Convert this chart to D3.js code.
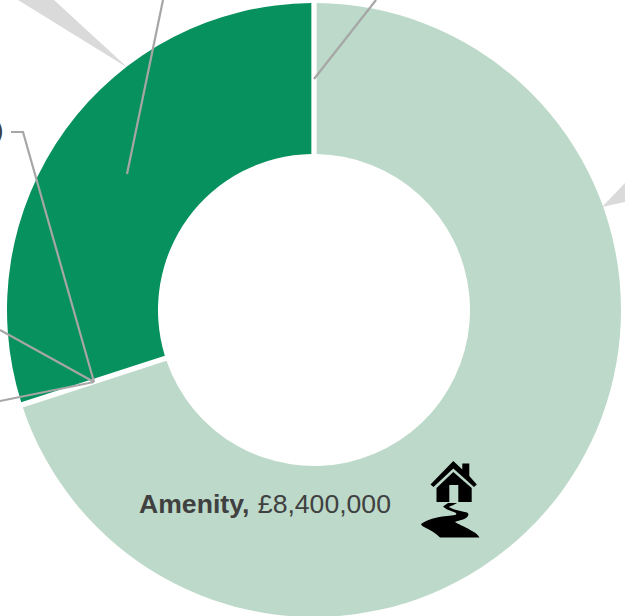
<!DOCTYPE html>
<html>
<head>
<meta charset="utf-8">
<script src="https://cdn.jsdelivr.net/npm/d3@7"></script>
<style>
  html, body { margin: 0; padding: 0; background: #fff; overflow: hidden; }
  svg { display: block; }
  text { font-family: "Liberation Sans", Arial, sans-serif; opacity: 0.999; }
</style>
</head>
<body>
<svg id="chart" width="625" height="616"></svg>
<script>
// Budget shares shown on the ring
const categories = ["Amenity", "Other"];
const values = [8400000, 3600000];
const sliceColors = ["#bcd9c9", "#07915f"];

const labelName = "Amenity,";
const labelAmount = "£8,400,000";

const cx = 314, cy = 310, outerR = 307, innerR = 156, gap = 5.3;

const svg = d3.select("#chart");

const pie = d3.pie().sort(null).value(d => d)(values);
// A constant-width gap separates the slices without eating into the ring's edges
const arc = d3.arc()
  .innerRadius(innerR)
  .outerRadius(outerR)
  .padRadius(outerR)
  .padAngle(gap / outerR);

// Pointer wedges running off towards the neighbouring panels
const wedges = [
  [[128, 68], [18, 0], [54, 0]],
  [[602, 207], [625, 183], [625, 202]]
];
svg.append("g").selectAll("polygon").data(wedges).join("polygon")
  .attr("points", d => d.join(" "))
  .attr("fill", "#dadada");

// Ring
svg.append("g").attr("transform", `translate(${cx},${cy})`)
  .selectAll("path").data(pie).join("path")
  .attr("d", arc)
  .attr("fill", (d, i) => sliceColors[i]);

// Leader lines
const leaders = [
  [[376, 0], [314, 79]],
  [[163, 0], [127, 174]],
  [[11, 132], [23, 132], [94, 382]],
  [[0, 330], [94, 382]],
  [[0, 401], [94, 382]]
];
svg.append("g").selectAll("path").data(leaders).join("path")
  .attr("d", d3.line())
  .attr("fill", "none")
  .attr("stroke", "#a6a6a6")
  .attr("stroke-width", 2.2);

// Closing bracket of a label that runs past the left edge
svg.append("text").attr("x", 3.5).attr("y", 139)
  .attr("text-anchor", "end")
  .attr("font-size", 26.6).attr("fill", "#404040").text(")");

// Value label inside the large slice
const label = svg.append("text").attr("x", 139).attr("y", 513)
  .attr("font-size", 26.6).attr("fill", "#404040");
label.append("tspan").attr("font-weight", "bold").text(labelName);
label.append("tspan").attr("dx", 8.5).text(labelAmount);

// House-and-path pictogram
const icon = svg.append("g").attr("transform", "translate(410,450)");
icon.append("path").attr("fill", "#000").attr("d",
  "M43.3 11 L52.3 19.5 L52.3 13.5 L59.3 13.5 L59.3 26 L66.8 34.5 L64 37 L43.3 18.5 L23.5 37 L20.5 34.5 Z" +
  "M43.3 22 L61.7 38 L61.7 52 L48.3 52 L48.3 35 L39.3 35 L39.3 52 L26.5 52 L26.5 38 Z" +
  "M33 56.5 L38 53 L47 53 C44 55 40 56 39 57 C44 60 50 61 57 62.5 C60 64 58 68 53 69.5 C49 70.5 46 71.5 45 72 " +
  "C50 75 58 78 62 81 C66 83 68 85 69.5 87.5 L30 87.5 C26 83 20 80 15 77.5 C12 76 11 74.5 11 74 " +
  "C15 71 20 69 27 67.5 C34 66 41 66 45 65 C47 64 46.5 63 45 62.5 C41 61 36 59.5 33 56.5 Z");
</script>
</body>
</html>
